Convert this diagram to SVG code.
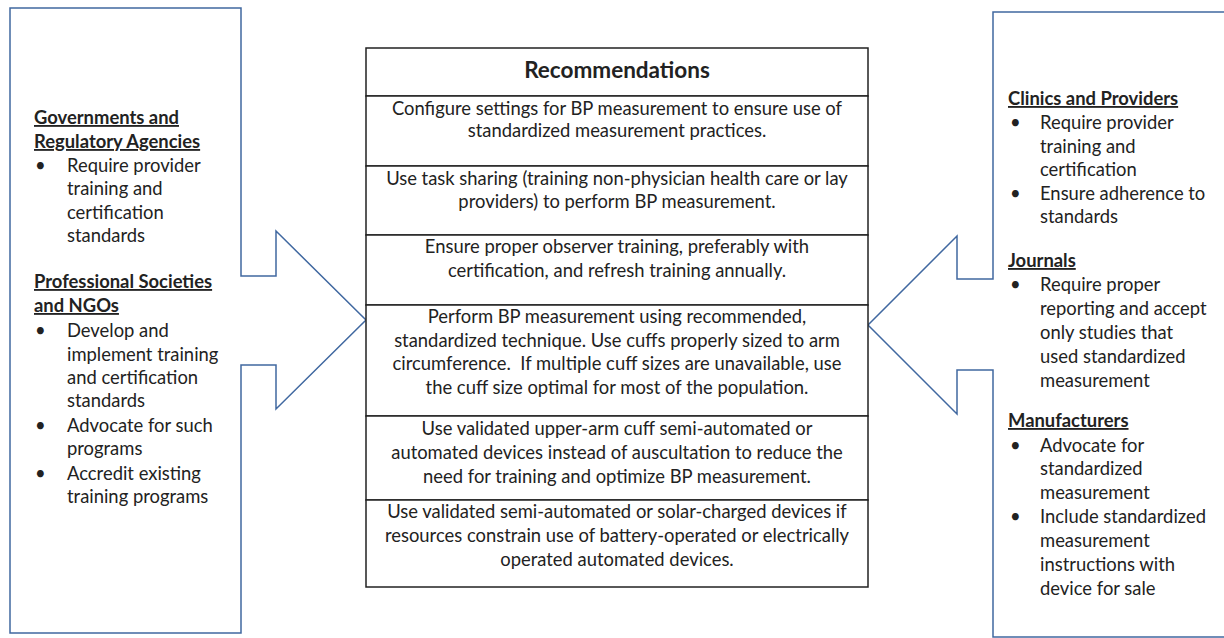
<svg xmlns="http://www.w3.org/2000/svg" width="1224" height="638" viewBox="0 0 1224 638">
<style>
text{font-family:Lato,"Open Sans","Liberation Sans",sans-serif;fill:#222;font-size:18.4px}
.c{text-anchor:middle}
.h{font-weight:bold;text-decoration:underline}
.t{font-weight:bold;font-size:22.5px}
.shape{fill:#fff;stroke:#4068a0;stroke-width:1.5}
.cell{fill:#fff;stroke:#222;stroke-width:1.5}
</style>
<rect width="1224" height="638" fill="#fff"/>
<g id="connectors">
<polygon id="left-arrow" class="shape" points="10,8 241,8 241,276 276,276 276,231 366,320 276,409 276,365 241,365 241,633 10,633"/>
<polygon id="right-arrow" class="shape" points="1230,12 993,12 993,279 957,279 957,236 868,325 957,414 957,370 993,370 993,637 1230,637"/>
</g>
<g id="left-node">
<text x="34" y="124" class="h">Governments and</text>
<text x="34" y="148" class="h">Regulatory Agencies</text>
<text x="35" y="172">•</text><text x="67" y="172">Require provider</text>
<text x="67" y="195">training and</text>
<text x="67" y="219">certification</text>
<text x="67" y="242">standards</text>
<text x="34" y="288" class="h">Professional Societies</text>
<text x="34" y="312" class="h">and NGOs</text>
<text x="35" y="337">•</text><text x="67" y="337">Develop and</text>
<text x="67" y="361">implement training</text>
<text x="67" y="384">and certification</text>
<text x="67" y="407">standards</text>
<text x="35" y="432">•</text><text x="67" y="432">Advocate for such</text>
<text x="67" y="455">programs</text>
<text x="35" y="480">•</text><text x="67" y="480">Accredit existing</text>
<text x="67" y="503">training programs</text>
</g>
<g id="recommendations">
<rect class="cell" x="366" y="48" width="502" height="48"/>
<rect class="cell" x="366" y="96" width="502" height="70"/>
<rect class="cell" x="366" y="166" width="502" height="69"/>
<rect class="cell" x="366" y="235" width="502" height="70"/>
<rect class="cell" x="366" y="305" width="502" height="111"/>
<rect class="cell" x="366" y="416" width="502" height="84"/>
<rect class="cell" x="366" y="500" width="502" height="87"/>
<text x="617" y="78" class="c t">Recommendations</text>
<text x="617" y="115" class="c">Configure settings for BP measurement to ensure use of</text>
<text x="617" y="137" class="c">standardized measurement practices.</text>
<text x="617" y="185" class="c">Use task sharing (training non-physician health care or lay</text>
<text x="617" y="208" class="c">providers) to perform BP measurement.</text>
<text x="617" y="253" class="c">Ensure proper observer training, preferably with</text>
<text x="617" y="277" class="c">certification, and refresh training annually.</text>
<text x="617" y="323" class="c">Perform BP measurement using recommended,</text>
<text x="617" y="347" class="c">standardized technique. Use cuffs properly sized to arm</text>
<text x="617" y="370" class="c" xml:space="preserve">circumference.  If multiple cuff sizes are unavailable, use</text>
<text x="617" y="394" class="c">the cuff size optimal for most of the population.</text>
<text x="617" y="435" class="c">Use validated upper-arm cuff semi-automated or</text>
<text x="617" y="459" class="c">automated devices instead of auscultation to reduce the</text>
<text x="617" y="483" class="c">need for training and optimize BP measurement.</text>
<text x="617" y="518" class="c">Use validated semi-automated or solar-charged devices if</text>
<text x="617" y="542" class="c">resources constrain use of battery-operated or electrically</text>
<text x="617" y="566" class="c">operated automated devices.</text>
</g>
<g id="right-node">
<text x="1008" y="105" class="h">Clinics and Providers</text>
<text x="1010" y="129">•</text><text x="1040" y="129">Require provider</text>
<text x="1040" y="153">training and</text>
<text x="1040" y="176">certification</text>
<text x="1010" y="200">•</text><text x="1040" y="200">Ensure adherence to</text>
<text x="1040" y="223">standards</text>
<text x="1008" y="267" class="h">Journals</text>
<text x="1010" y="291">•</text><text x="1040" y="291">Require proper</text>
<text x="1040" y="315">reporting and accept</text>
<text x="1040" y="339">only studies that</text>
<text x="1040" y="363">used standardized</text>
<text x="1040" y="387">measurement</text>
<text x="1008" y="427" class="h">Manufacturers</text>
<text x="1010" y="452">•</text><text x="1040" y="452">Advocate for</text>
<text x="1040" y="475">standardized</text>
<text x="1040" y="499">measurement</text>
<text x="1010" y="523">•</text><text x="1040" y="523">Include standardized</text>
<text x="1040" y="547">measurement</text>
<text x="1040" y="571">instructions with</text>
<text x="1040" y="595">device for sale</text>
</g>
</svg>
